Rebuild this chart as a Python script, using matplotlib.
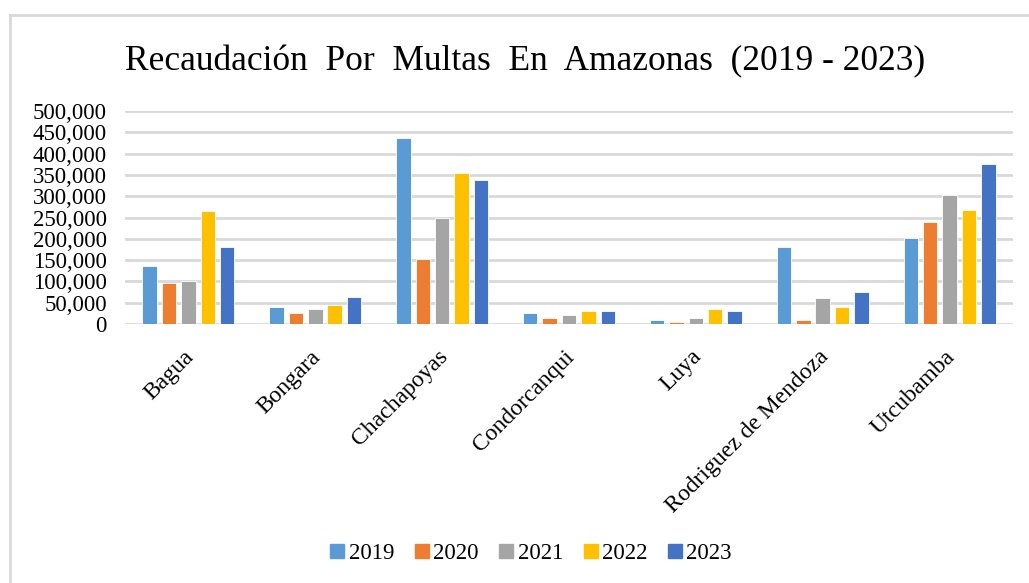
import matplotlib
matplotlib.use("Agg")
import matplotlib.pyplot as plt
import matplotlib.transforms as mtransforms
from matplotlib.lines import Line2D
import numpy as np

categories = ["Bagua", "Bongara", "Chachapoyas", "Condorcanqui", "Luya",
              "Rodriguez de Mendoza", "Utcubamba"]
years = ["2019", "2020", "2021", "2022", "2023"]
v2019 = [135000, 39000, 436000, 25000, 10000, 180000, 201000]
v2020 = [96000, 26500, 153000, 13000, 4000, 10000, 240000]
v2021 = [101500, 36000, 249000, 20000, 13000, 62000, 303000]
v2022 = [265000, 45000, 355000, 31000, 34500, 41000, 267000]
v2023 = [180000, 63000, 337000, 31000, 31000, 74000, 375000]
series = [v2019, v2020, v2021, v2022, v2023]
colors = ["#5B9BD5", "#ED7D31", "#A5A5A5", "#FFC000", "#4472C4"]
yticks = [0, 50000, 100000, 150000, 200000, 250000, 300000, 350000, 400000, 450000, 500000]

plt.rcParams["font.family"] = ["Liberation Serif", "DejaVu Serif"]

W, H = 1029, 583
fig = plt.figure(figsize=(W / 100, H / 100), dpi=100)
ax = fig.add_axes([125 / W, 1 - 324 / H, (1013 - 125) / W, (324 - 111) / H])

x = np.arange(len(categories))
step = 0.153
width = 0.114
for i, (vals, c) in enumerate(zip(series, colors)):
    ax.bar(x + (i - 2) * step, vals, width=width, color=c, edgecolor="white",
           linewidth=0.6, zorder=3, label=years[i])

ax.set_xlim(-0.5, len(categories) - 0.5)
ax.set_ylim(0, 500000)
ax.set_yticks(yticks)
ax.set_yticklabels([f"{v:,}" for v in yticks], fontsize=16.5)
ax.yaxis.grid(True, color="#d9d9d9", linewidth=2, zorder=0)
ax.set_axisbelow(True)
for s in ax.spines.values():
    s.set_visible(False)
ax.tick_params(axis="y", length=0, pad=13)
ax.tick_params(axis="x", length=0, pad=16)
ax.set_xticks(x)
ax.set_xticklabels(categories, rotation=45, ha="right", va="top", fontsize=17)
offset = mtransforms.ScaledTranslation(10 / 100, 0, fig.dpi_scale_trans)
for lab in ax.get_xticklabels():
    lab.set_transform(lab.get_transform() + offset)

fig.text(525 / W, 1 - 62 / H, "Recaudación  Por  Multas  En  Amazonas  (2019 - 2023)",
         ha="center", va="center", fontsize=25.5)

handles = [Line2D([], [], marker="s", linestyle="none", markersize=9.5,
                  markerfacecolor=c, markeredgecolor=c) for c in colors]
fig.legend(handles, years, loc="center", bbox_to_anchor=(530 / W, 1 - 553 / H),
           ncol=5, frameon=False, fontsize=16.5, handletextpad=0.1,
           columnspacing=0.8, handlelength=0.8)

# outer border (top and left edges visible)
bx = 10 / W
by = 1 - 15 / H
fig.add_artist(Line2D([bx, 1.0], [by, by], transform=fig.transFigure,
                      color="#d9d9d9", linewidth=2))
fig.add_artist(Line2D([bx, bx], [0, by], transform=fig.transFigure,
                      color="#d9d9d9", linewidth=2))

fig.savefig("out.png", dpi=100, facecolor="white")
